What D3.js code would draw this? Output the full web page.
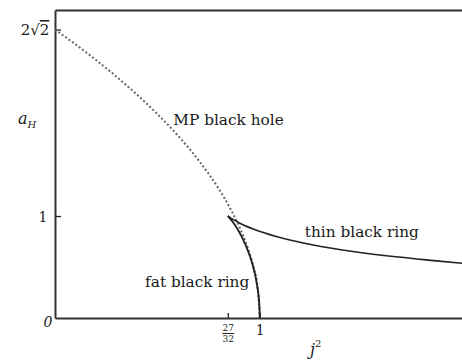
<!DOCTYPE html>
<html>
<head>
<meta charset="utf-8">
<script src="https://cdn.jsdelivr.net/npm/d3@7"></script>
<style>
  html, body { margin: 0; padding: 0; background: #fff; }
  svg { display: block; }
  text { font-family: "DejaVu Serif", "Liberation Serif", serif; fill: #1a1a1a; }
</style>
</head>
<body>
<svg id="chart" width="462" height="364"></svg>
<script>
// Phase diagram of 5D black holes: horizon area a_H against spin j^2
const mpBlackHole = [
  [0.00, 2.828], [0.10, 2.683], [0.20, 2.530], [0.30, 2.366], [0.40, 2.191],
  [0.50, 2.000], [0.60, 1.789], [0.70, 1.549], [0.80, 1.265], [0.85, 1.095],
  [0.90, 0.894], [0.94, 0.693], [0.97, 0.490], [0.99, 0.283], [1.00, 0.000]
];
const thinRing = [
  [0.844, 1.000], [0.858, 0.980], [0.880, 0.955], [0.915, 0.917], [0.977, 0.866],
  [1.080, 0.800], [1.267, 0.714], [1.463, 0.650], [1.664, 0.600], [1.850, 0.563],
  [2.000, 0.535]
];
const fatRing = [
  [0.844, 1.000], [0.853, 0.980], [0.877, 0.917], [0.911, 0.800], [0.953, 0.600],
  [0.976, 0.436], [0.985, 0.341], [0.993, 0.240], [0.998, 0.120], [1.000, 0.000]
];
const yTicks = [0, 1, 2 * Math.SQRT2];
const xTicks = [27 / 32, 1];
const curveLabels = [
  { text: "MP black hole", at: [0.578, 1.89] },
  { text: "thin black ring", at: [1.22, 0.79] },
  { text: "fat black ring", at: [0.44, 0.30] }
];

const svg = d3.select("#chart");
const x = d3.scaleLinear().domain([0, 2]).range([55, 464.6]);
const y = d3.scaleLinear().domain([0, 3.02]).range([318, 10]);

const line = d3.line().x(d => x(d[0])).y(d => y(d[1])).curve(d3.curveMonotoneX);
const lineY = d3.line().x(d => x(d[0])).y(d => y(d[1])).curve(d3.curveMonotoneY);

// frame: top, bottom and left edges
svg.append("g").attr("transform", `translate(0,${y(3.02)})`)
  .call(d3.axisTop(x).tickValues([]).tickSizeOuter(0))
  .call(g => g.select(".domain").attr("stroke", "#333").attr("stroke-width", 2));

const xAxis = svg.append("g").attr("transform", `translate(0,${y(0)})`)
  .call(d3.axisBottom(x).tickValues(xTicks).tickSize(-5).tickSizeOuter(0).tickFormat(""));
xAxis.select(".domain").attr("stroke", "#333").attr("stroke-width", 2);
xAxis.selectAll(".tick line").attr("stroke", "#222").attr("stroke-width", 1.3);

const yAxis = svg.append("g").attr("transform", `translate(${x(0)},0)`)
  .call(d3.axisLeft(y).tickValues(yTicks).tickSize(-6).tickSizeOuter(0).tickFormat(""));
yAxis.select(".domain").attr("stroke", "#333").attr("stroke-width", 2);
yAxis.selectAll(".tick line").attr("stroke", "#222").attr("stroke-width", 1.3)
  .filter(d => d === 0).remove();

// tick labels
yAxis.selectAll(".tick").each(function (d) {
  const g = d3.select(this);
  if (d === 0) {
    g.append("text").attr("x", -7).attr("y", 8).attr("text-anchor", "middle")
      .attr("font-size", 14).attr("font-style", "italic").text("0");
  } else if (d === 1) {
    g.append("text").attr("x", -12).attr("y", 5).attr("text-anchor", "middle")
      .attr("font-size", 14).text("1");
  } else {
    const t = g.append("text").attr("x", -20).attr("y", 5).attr("text-anchor", "middle")
      .attr("font-size", 15);
    t.append("tspan").text("2√");
    t.append("tspan").attr("text-decoration", "overline").text("2");
  }
});
xAxis.selectAll(".tick").each(function (d) {
  const g = d3.select(this);
  if (d === 1) {
    g.append("text").attr("y", 17).attr("text-anchor", "middle").attr("font-size", 14).text("1");
  } else {
    g.append("text").attr("y", 13).attr("text-anchor", "middle").attr("font-size", 9).text("27");
    g.append("line").attr("x1", -6).attr("x2", 6).attr("y1", 15.5).attr("y2", 15.5)
      .attr("stroke", "#222").attr("stroke-width", 1);
    g.append("text").attr("y", 24).attr("text-anchor", "middle").attr("font-size", 9).text("32");
  }
});

// axis titles
const aT = svg.append("text").attr("x", 18).attr("y", 124).attr("font-size", 16).attr("font-style", "italic");
aT.append("tspan").text("a");
aT.append("tspan").attr("font-size", 10).attr("dy", 4).text("H");
const jT = svg.append("text").attr("x", 310).attr("y", 355).attr("font-size", 16).attr("font-style", "italic");
jT.append("tspan").text("j");
jT.append("tspan").attr("font-size", 10).attr("dy", -8).attr("font-style", "normal").text("2");

// curves
svg.append("path").datum(mpBlackHole).attr("d", line)
  .attr("fill", "none").attr("stroke", "#666").attr("stroke-width", 2)
  .attr("stroke-dasharray", "2,2.2");
svg.append("path").datum(fatRing).attr("d", lineY)
  .attr("fill", "none").attr("stroke", "#222").attr("stroke-width", 1.9);
svg.append("path").datum(thinRing).attr("d", line)
  .attr("fill", "none").attr("stroke", "#222").attr("stroke-width", 1.6);

// curve labels
svg.selectAll("text.curve").data(curveLabels).join("text").attr("class", "curve")
  .attr("x", d => x(d.at[0])).attr("y", d => y(d.at[1]))
  .attr("font-size", 15.3).text(d => d.text);
</script>
</body>
</html>
